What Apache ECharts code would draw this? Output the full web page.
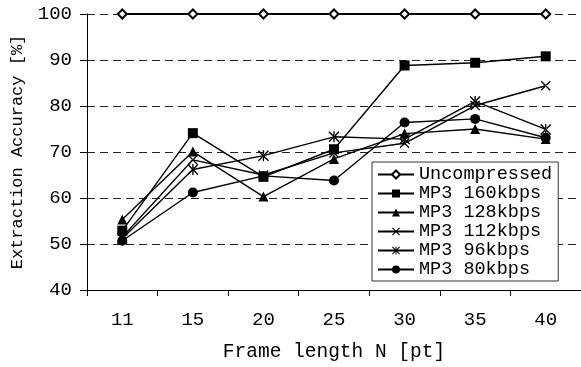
<!DOCTYPE html>
<html><head><meta charset="utf-8">
<script src="https://cdn.jsdelivr.net/npm/echarts@6/dist/echarts.min.js"></script>
<style>html,body{margin:0;padding:0;background:#fff}#c{width:581px;height:367px}</style>
</head><body><div id="c"></div>
<script>
const categories = ['11','15','20','25','30','35','40'];
const seriesNames = ['Uncompressed','MP3 160kbps','MP3 128kbps','MP3 112kbps','MP3 96kbps','MP3 80kbps'];
const uncompressed = [100,100,100,100,100,100,100];
const mp3_160 = [52.9, 74.1, 64.6, 70.6, 88.8, 89.4, 90.8];
const mp3_128 = [55.3, 70.1, 60.3, 68.5, 74.0, 75.0, 72.8];
const mp3_112 = [51.5, 68.3, 65.0, 69.8, 71.9, 80.1, 84.4];
const mp3_96  = [51.2, 66.2, 69.2, 73.3, 72.8, 81.0, 74.9];
const mp3_80  = [50.7, 61.2, 64.8, 63.8, 76.4, 77.2, 73.1];
const yTicks = [40,50,60,70,80,90,100];

const FONT = 'Liberation Mono';
const X_PATH = 'path://M0,0.9 L0.9,0 L10,9.1 L9.1,10 Z M10,0.9 L9.1,0 L0,9.1 L0.9,10 Z';
const STAR_PATH = 'path://M0,0.9 L0.9,0 L10,9.1 L9.1,10 Z M10,0.9 L9.1,0 L0,9.1 L0.9,10 Z M4.4,0 L5.6,0 L5.6,10 L4.4,10 Z';

function mk(name, data, symbol, size, lw) {
  return {
    name, type: 'line', data, symbol, symbolSize: size,
    lineStyle: {color: '#000', width: lw},
    itemStyle: {color: '#000', borderWidth: symbol === 'emptyDiamond' ? 1 : 0},
    emphasis: {disabled: true}, z: 3
  };
}

const chart = echarts.init(document.getElementById('c'), null, {renderer: 'canvas'});
chart.setOption({
  animation: false,
  backgroundColor: '#fff',
  textStyle: {fontFamily: FONT, color: '#000'},
  grid: {left: 87, right: 0, top: 14, bottom: 76},
  legend: {
    orient: 'vertical', left: 372, top: 162,
    data: seriesNames,
    backgroundColor: '#fff', borderColor: '#333', borderWidth: 1,
    padding: [3, 6, 2, 5], itemGap: 0, itemWidth: 36, itemHeight: 10,
    selectedMode: false,
    textStyle: {fontFamily: FONT, fontSize: 18.5, color: '#000', lineHeight: 18},
    z: 10
  },
  xAxis: {
    type: 'category', data: categories, boundaryGap: true,
    name: 'Frame length N [pt]', nameLocation: 'middle', nameGap: 52,
    nameTextStyle: {fontFamily: FONT, fontSize: 19.5, color: '#000'},
    axisLine: {lineStyle: {color: '#000', width: 1}},
    axisTick: {show: true, length: 6, interval: 0, lineStyle: {color: '#000'}},
    axisLabel: {fontFamily: FONT, fontSize: 19, color: '#000', margin: 20, interval: 0},
    splitLine: {show: false}
  },
  yAxis: {
    type: 'value', min: 40, max: 100, interval: 10,
    name: 'Extraction Accuracy [%]', nameLocation: 'middle', nameGap: 61, nameRotate: 90,
    nameTextStyle: {fontFamily: FONT, fontSize: 17, color: '#000'},
    axisLine: {show: true, lineStyle: {color: '#000', width: 1}},
    axisTick: {show: true, length: 7, lineStyle: {color: '#000'}},
    axisLabel: {fontFamily: FONT, fontSize: 19, color: '#000', margin: 15,
      formatter: v => yTicks.includes(v) ? String(v) : ''},
    splitLine: {show: true, lineStyle: {color: '#222', width: 1, type: [8, 5]}}
  },
  series: [
    mk(seriesNames[0], uncompressed, 'emptyDiamond', 9, 2),
    mk(seriesNames[1], mp3_160, 'rect', 10, 1.4),
    mk(seriesNames[2], mp3_128, 'triangle', 10, 1.4),
    mk(seriesNames[3], mp3_112, X_PATH, 10, 1.4),
    mk(seriesNames[4], mp3_96, STAR_PATH, 11, 1.4),
    mk(seriesNames[5], mp3_80, 'circle', 10, 1.4)
  ]
});
</script></body></html>
